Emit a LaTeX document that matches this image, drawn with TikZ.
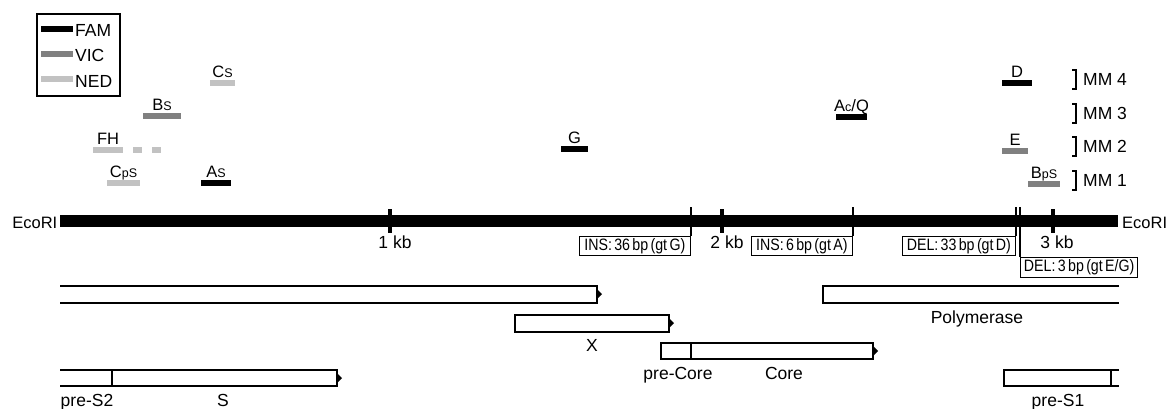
\documentclass[tikz,border=0pt]{standalone}
\usepackage{fontspec}
\setmainfont{Liberation Sans}
\newfontfamily\condfont[FakeStretch=0.86,WordSpace=0.6]{Liberation Sans}
\newcommand\myfs[1]{\fontsize{#1}{#1}\selectfont}
\newcommand\sml[1]{{\myfs{12.5}#1}}
\definecolor{fam}{gray}{0}
\definecolor{vic}{gray}{0.5}
\definecolor{ned}{gray}{0.76}
\tikzset{
  probe/.style={inner sep=0pt, minimum height=6pt, draw=none},
  lab/.style={anchor=base, inner sep=0pt, font=\myfs{16.5}},
  txt/.style={anchor=base, inner sep=0pt, font=\myfs{17.5}},
  mmtxt/.style={anchor=base west, inner sep=0pt, font=\myfs{17.5}},
  legtxt/.style={anchor=base west, inner sep=0pt, font=\myfs{17.5}},
  mut/.style={draw, line width=1.3pt, inner sep=0pt, minimum height=19pt, font=\condfont\myfs{16.5}},
  mline/.style={line width=1.4pt},
  tickbox/.style={fill=black, inner sep=0pt, minimum width=4pt, minimum height=24pt},
  orf/.style={line width=2pt},
  tip/.style={fill=black},
}
\begin{document}
\begin{tikzpicture}[x=1pt,y=-1pt]
\useasboundingbox (0,0) rectangle (1168,408);

% legend
\node[draw, line width=2pt, minimum width=83pt, minimum height=82pt, inner sep=0pt, anchor=north west] (legend) at (36,13) {};
\draw[line width=6pt, fam] (41,29) -- (73,29);
\draw[line width=6pt, vic] (41,54) -- (73,54);
\draw[line width=6pt, ned] (41,79) -- (73,79);
\node[legtxt] (lfam) at (75,36) {FAM};
\node[legtxt] (lvic) at (75,61) {VIC};
\node[legtxt] (lned) at (75,87) {NED};

% probes
\node[probe, fill=ned, minimum width=25pt] (Cs) at (222.5,83) {};
\node[lab] (Cslab) at (222.5,77) {C\sml{S}};
\node[probe, fill=vic, minimum width=38pt] (Bs) at (162,116) {};
\node[lab] (Bslab) at (162,110) {B\sml{S}};
\node[probe, fill=ned, minimum width=30pt] (FH) at (108,150) {};
\node[probe, fill=ned, minimum width=9pt] (FHa) at (137.5,150) {};
\node[probe, fill=ned, minimum width=9pt] (FHb) at (156.5,150) {};
\node[lab] (FHlab) at (108,144) {FH};
\node[probe, fill=ned, minimum width=33pt] (Cps) at (123.5,183) {};
\node[lab] (Cpslab) at (123.5,177) {C\sml{pS}};
\node[probe, fill=fam, minimum width=30pt] (As) at (216,183) {};
\node[lab] (Aslab) at (216,177) {A\sml{S}};
\node[probe, fill=fam, minimum width=27pt] (G) at (574.5,149) {};
\node[lab] (Glab) at (574.5,143) {G};
\node[probe, fill=fam, minimum width=31pt] (AcQ) at (851.5,117) {};
\node[lab] (AcQlab) at (851.5,111) {A\sml{c}/Q};
\node[probe, fill=fam, minimum width=30pt] (D) at (1017,83) {};
\node[lab] (Dlab) at (1017,77) {D};
\node[probe, fill=vic, minimum width=26pt] (E) at (1015,151) {};
\node[lab] (Elab) at (1015,145) {E};
\node[probe, fill=vic, minimum width=32pt] (Bps) at (1044,184) {};
\node[lab] (Bpslab) at (1044,178) {B\sml{pS}};

% MM labels
\foreach \r/\t in {83/4,117/3,150/2,184/1}{
  \draw[line width=1.8pt] (1072,\r-13) -- (1076,\r-13) -- (1076,\r+6) -- (1072,\r+6);
  \node[mmtxt] (mm\t) at (1083,\r+2) {MM \t};
}

% genome bar
\node[fill=black, inner sep=0pt, minimum width=1058pt, minimum height=12pt, anchor=west] (genome) at (60,221) {};
\node[anchor=base east, inner sep=0pt, font=\myfs{16.5}] (ecoL) at (57.5,228) {EcoRI};
\node[anchor=base west, inner sep=0pt, font=\myfs{16.5}] (ecoR) at (1122,228) {EcoRI};

% kb ticks
\node[tickbox] (t1) at (390,221) {};
\node[tickbox] (t2) at (722,221) {};
\node[tickbox] (t3) at (1053,221) {};
\node[txt] (k1) at (395,248) {1 kb};
\node[txt] (k2) at (727,248) {2 kb};
\node[txt] (k3) at (1057,248) {3 kb};

% mutations
\node[mut, minimum width=111pt, anchor=north east] (ins36) at (691,236) {INS: 36 bp (gt G)};
\node[mut, minimum width=101pt, anchor=north east] (ins6) at (853,236) {INS: 6 bp (gt A)};
\node[mut, minimum width=113pt, anchor=north east] (del33) at (1016,236) {DEL: 33 bp (gt D)};
\node[mut, minimum width=117pt, minimum height=20pt, anchor=north west] (del3) at (1020,257) {DEL: 3 bp (gt E/G)};
\coordinate (m1) at (691,207);
\coordinate (m2) at (853,207);
\coordinate (m3) at (1016,207);
\coordinate (m4) at (1020,207);
\draw[mline] (m1) -- (ins36.north east);
\draw[mline] (m2) -- (ins6.north east);
\draw[mline] (m3) -- (del33.north east);
\draw[mline] (m4) -- (del3.north west);

% ORFs
\draw[orf] (60,286) -- (597,286) -- (597,302.5) -- (60,302.5);
\fill[tip] (597,289) -- (602,294) -- (597,299) -- cycle;
\draw[orf] (1119,286) -- (823,286) -- (823,302.5) -- (1119,302.5);
\node[txt] (pol) at (977,323) {Polymerase};

\draw[orf] (515,315) rectangle (669,331.5);
\fill[tip] (669,318) -- (674,323) -- (669,328) -- cycle;
\node[txt] (xl) at (592,351) {X};

\draw[orf] (661,343) rectangle (873,359);
\draw[orf] (691,343) -- (691,359);
\fill[tip] (873,346) -- (878,351) -- (873,356) -- cycle;
\node[txt] (prec) at (678,379) {pre-Core};
\node[txt] (core) at (784,379) {Core};

\draw[orf] (60,370) -- (337,370) -- (337,386) -- (60,386);
\draw[orf] (112,370) -- (112,386);
\fill[tip] (337,373) -- (342,378) -- (337,383) -- cycle;
\node[txt] (pres2) at (87,406) {pre-S2};
\node[txt] (sl) at (223,406) {S};

\draw[orf] (1119,370) -- (1004,370) -- (1004,386) -- (1119,386);
\draw[orf] (1111,370) -- (1111,386);
\node[txt] (pres1) at (1058,406) {pre-S1};
\end{tikzpicture}
\end{document}
